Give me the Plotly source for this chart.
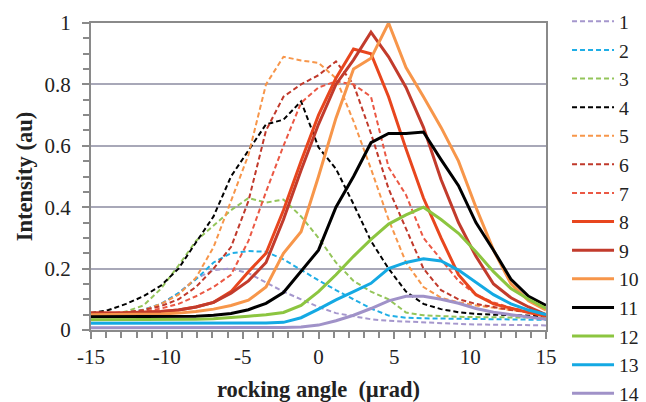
import plotly.graph_objects as go

angle = [-15, -13.85, -12.69, -11.54, -10.38, -9.23, -8.08, -6.92, -5.77, -4.62, -3.46, -2.31, -1.15,
         0, 1.15, 2.31, 3.46, 4.62, 5.77, 6.92, 8.08, 9.23, 10.38, 11.54, 12.69, 13.85, 15]

s1 = [0.045, 0.05, 0.055, 0.065, 0.085, 0.12, 0.168, 0.195, 0.2, 0.185, 0.155, 0.125, 0.1, 0.075,
      0.055, 0.045, 0.035, 0.03, 0.027, 0.024, 0.022, 0.02, 0.018, 0.017, 0.016, 0.015, 0.015]
s2 = [0.045, 0.05, 0.056, 0.066, 0.085, 0.12, 0.165, 0.22, 0.25, 0.257, 0.255, 0.23, 0.195, 0.162,
      0.13, 0.1, 0.07, 0.047, 0.04, 0.038, 0.037, 0.036, 0.035, 0.035, 0.034, 0.034, 0.033]
s3 = [0.045, 0.05, 0.06, 0.08, 0.135, 0.21, 0.29, 0.34, 0.39, 0.43, 0.415, 0.425, 0.37, 0.3,
      0.22, 0.16, 0.125, 0.1, 0.057, 0.048, 0.045, 0.043, 0.042, 0.041, 0.04, 0.04, 0.04]
s4 = [0.055, 0.065, 0.085, 0.11, 0.145, 0.2, 0.285, 0.37, 0.5, 0.585, 0.67, 0.685, 0.745, 0.595,
      0.525, 0.41, 0.29, 0.2, 0.125, 0.085, 0.068, 0.058, 0.052, 0.05, 0.048, 0.046, 0.045]
s5 = [0.05, 0.052, 0.056, 0.065, 0.085, 0.115, 0.17, 0.27, 0.42, 0.57, 0.8, 0.89, 0.878, 0.87,
      0.82, 0.68, 0.525, 0.36, 0.22, 0.14, 0.105, 0.09, 0.08, 0.072, 0.065, 0.058, 0.05]
s6 = [0.05, 0.053, 0.058, 0.065, 0.078, 0.1, 0.14, 0.2, 0.27, 0.42, 0.65, 0.76, 0.8, 0.83,
      0.875, 0.8, 0.64, 0.46, 0.33, 0.2, 0.13, 0.1, 0.085, 0.075, 0.065, 0.058, 0.05]
s7 = [0.05, 0.052, 0.055, 0.06, 0.07, 0.085, 0.11, 0.14, 0.18, 0.29, 0.45, 0.6, 0.74, 0.79,
      0.81, 0.8, 0.76, 0.53, 0.44, 0.3, 0.23, 0.16, 0.115, 0.09, 0.072, 0.06, 0.05]
s8 = [0.055, 0.055, 0.056, 0.058, 0.06, 0.065, 0.075, 0.09, 0.125, 0.19, 0.25, 0.39, 0.55, 0.7,
      0.82, 0.915, 0.9, 0.76, 0.59, 0.43, 0.3, 0.18, 0.115, 0.085, 0.07, 0.057, 0.045]
s9 = [0.055, 0.055, 0.056, 0.058, 0.06, 0.065, 0.075, 0.09, 0.12, 0.16, 0.22, 0.36, 0.52, 0.67,
      0.8, 0.88, 0.97, 0.89, 0.79, 0.66, 0.49, 0.35, 0.24, 0.15, 0.105, 0.075, 0.05]
s10 = [0.05, 0.05, 0.05, 0.051, 0.052, 0.055, 0.06, 0.068, 0.08, 0.097, 0.14, 0.25, 0.32, 0.5,
       0.69, 0.85, 0.885, 1.0, 0.855, 0.76, 0.66, 0.55, 0.4, 0.26, 0.15, 0.095, 0.065]
s11 = [0.043, 0.043, 0.043, 0.043, 0.043, 0.044, 0.045, 0.048, 0.054, 0.066, 0.087, 0.122, 0.19, 0.26,
       0.4, 0.5, 0.61, 0.64, 0.64, 0.645, 0.555, 0.47, 0.35, 0.26, 0.165, 0.11, 0.08]
s12 = [0.033, 0.033, 0.033, 0.033, 0.033, 0.034, 0.035, 0.037, 0.04, 0.045, 0.05, 0.057, 0.08, 0.125,
       0.18, 0.24, 0.295, 0.345, 0.375, 0.4, 0.36, 0.315, 0.255, 0.19, 0.135, 0.1, 0.07]
s13 = [0.022, 0.022, 0.022, 0.022, 0.022, 0.022, 0.022, 0.022, 0.022, 0.022, 0.023, 0.025, 0.04, 0.068,
       0.098, 0.125, 0.152, 0.2, 0.22, 0.232, 0.225, 0.195, 0.155, 0.115, 0.085, 0.065, 0.05]
s14 = [0.007, 0.007, 0.007, 0.007, 0.007, 0.007, 0.007, 0.007, 0.007, 0.007, 0.007, 0.008, 0.01, 0.016,
       0.03, 0.048, 0.07, 0.095, 0.11, 0.11, 0.1, 0.087, 0.07, 0.058, 0.05, 0.042, 0.035]

series_names = ["1", "2", "3", "4", "5", "6", "7", "8", "9", "10", "11", "12", "13", "14"]
series_values = [s1, s2, s3, s4, s5, s6, s7, s8, s9, s10, s11, s12, s13, s14]
colors = ["#A597CD", "#1FAEE6", "#94C55A", "#000000", "#F7964A", "#C0392B", "#EB5844",
          "#E8461E", "#C23B2C", "#F7964A", "#000000", "#8CC540", "#14A9E3", "#A092C8"]
dashed = [True] * 7 + [False] * 7

x_tickvals = [-15, -10, -5, 0, 5, 10, 15]
x_ticktext = ["-15", "-10", "-5", "0", "5", "10", "15"]
y_tickvals = [0, 0.2, 0.4, 0.6, 0.8, 1]
y_ticktext = ["0", "0.2", "0.4", "0.6", "0.8", "1"]
x_minor = list(range(-15, 16))
y_minor = [round(i * 0.05, 2) for i in range(21)]

FONT = "Liberation Serif, Times New Roman, serif"

fig = go.Figure()
for name, vals, col, d in zip(series_names, series_values, colors, dashed):
    fig.add_trace(go.Scatter(
        x=angle, y=vals, mode="lines", name=name, legendgroup=name,
        line=dict(color=col, width=2 if d else 3, dash="5px,3px" if d else "solid"),
    ))

axis_col = "#8A8A8A"
fig.update_layout(
    width=646, height=402,
    margin=dict(l=91, r=100, t=23, b=72, autoexpand=False),
    plot_bgcolor="white", paper_bgcolor="white",
    font=dict(family=FONT, size=21, color="#222222"),
    showlegend=True,
    legend=dict(
        x=1.0462, xanchor="left", y=0.995, yanchor="top", yref="container",
        font=dict(family=FONT, size=19.7, color="#222222"),
        itemwidth=42, tracegroupgap=0, maxheight=700,
        bgcolor="rgba(0,0,0,0)", borderwidth=0,
    ),
    xaxis=dict(
        range=[-15, 15], tickmode="array", tickvals=x_tickvals, ticktext=x_ticktext,
        showgrid=False, zeroline=False, automargin=False,
        showline=True, linecolor=axis_col, linewidth=2, mirror=True,
        ticks="outside", ticklen=7, tickwidth=1.5, tickcolor=axis_col,
        minor=dict(tickmode="array", tickvals=x_minor, ticks="outside", ticklen=6,
                   tickwidth=1.5, tickcolor=axis_col, showgrid=False),
        title=dict(text="<b>rocking angle  (µrad)</b>", font=dict(family=FONT, size=22.5), standoff=21),
    ),
    yaxis=dict(
        range=[0, 1], tickmode="array", tickvals=y_tickvals, ticktext=y_ticktext,
        showgrid=True, gridcolor="#A8A8B8", gridwidth=2, zeroline=False, automargin=False,
        showline=True, linecolor=axis_col, linewidth=2, mirror=True,
        ticks="outside", ticklen=7, tickwidth=1.5, tickcolor=axis_col,
        minor=dict(tickmode="array", tickvals=y_minor, ticks="outside", ticklen=6,
                   tickwidth=1.5, tickcolor=axis_col, showgrid=False),
        ticklabelstandoff=7,
        title=dict(text="<b>Intensity (au)</b>", font=dict(family=FONT, size=22.5), standoff=6),
    ),
)

fig.write_html("out.html", config={"displayModeBar": False},
               post_script="document.body.style.margin='0';")
